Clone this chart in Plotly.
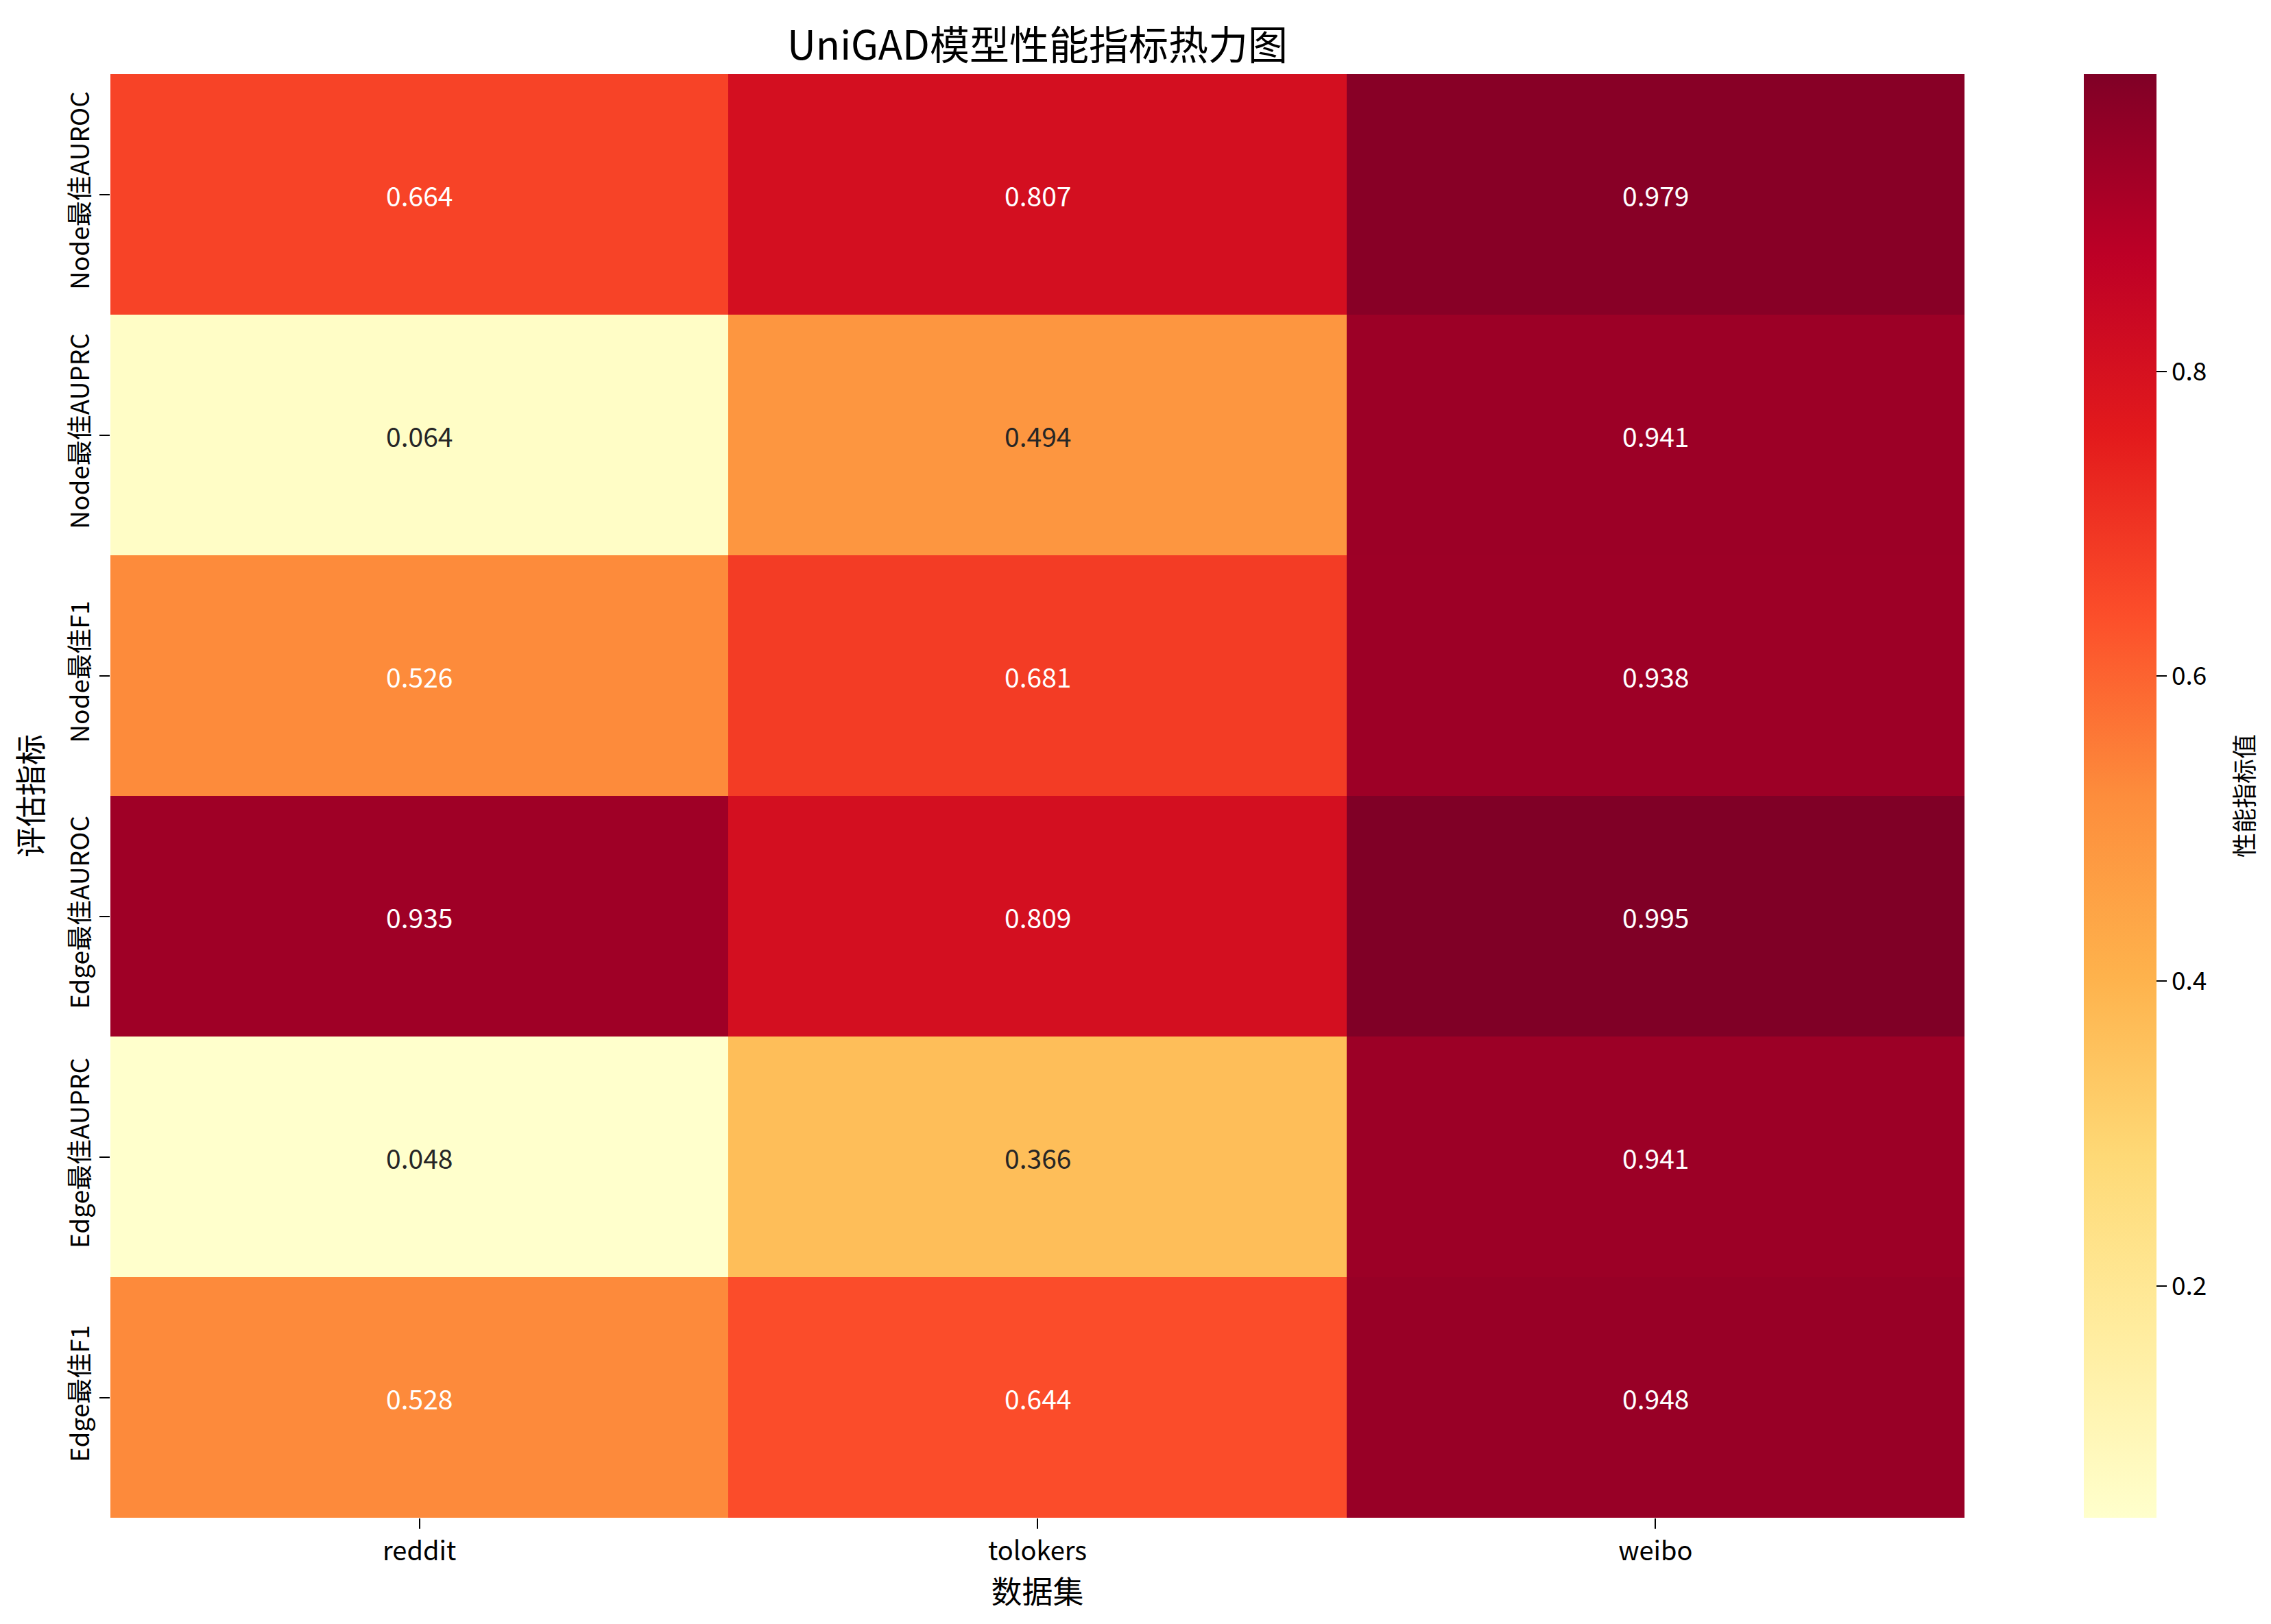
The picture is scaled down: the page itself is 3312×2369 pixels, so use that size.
"""UniGAD heatmap of performance metrics."""

import plotly.graph_objects as go
import plotly.express as px

datasets = ['reddit', 'tolokers', 'weibo']
metrics = ['Node最佳AUROC', 'Node最佳AUPRC', 'Node最佳F1',
           'Edge最佳AUROC', 'Edge最佳AUPRC', 'Edge最佳F1']

node_auroc = [0.664, 0.807, 0.979]
node_auprc = [0.064, 0.494, 0.941]
node_f1 = [0.526, 0.681, 0.938]
edge_auroc = [0.935, 0.809, 0.995]
edge_auprc = [0.048, 0.366, 0.941]
edge_f1 = [0.528, 0.644, 0.948]

z = [node_auroc, node_auprc, node_f1, edge_auroc, edge_auprc, edge_f1]
zmin = min(min(r) for r in z)
zmax = max(max(r) for r in z)

FONT = 'Noto Sans CJK SC'
W, H = 3312, 2369
L, R, T, B = 153, 2857, 100, 2206
pw = R - L

fig = go.Figure()
fig.add_trace(go.Heatmap(
    z=z, x=datasets, y=metrics,
    colorscale=px.colors.sequential.YlOrRd,
    zmin=zmin, zmax=zmax,
    colorbar=dict(
        x=(3031 - L) / pw, xanchor='left', y=0.5, len=1, lenmode='fraction',
        thickness=106, outlinewidth=0, xpad=0, ypad=0,
        tickvals=[0.2, 0.4, 0.6, 0.8], ticktext=['0.2', '0.4', '0.6', '0.8'],
        ticks='outside', ticklen=15, tickwidth=2, tickcolor='black',
        tickfont=dict(family=FONT, size=37, color='black'),
    ),
    hoverinfo='skip',
))

# cell labels, dark text on light cells like seaborn
for i, row in enumerate(z):
    for j, v in enumerate(row):
        fig.add_annotation(
            x=datasets[j], y=metrics[i], text=f'{v:.3f}', showarrow=False,
            font=dict(family=FONT, size=39, color='#262626' if v < 0.5 else 'white'),
        )

fig.add_annotation(
    text='性能指标值', xref='paper', yref='paper', x=(3263 - L) / pw, y=0.5,
    textangle=-90, showarrow=False, xanchor='center', yanchor='middle',
    font=dict(family=FONT, size=36, color='black'),
)

fig.update_layout(
    width=W, height=H,
    margin=dict(l=L, r=W - R, t=T, b=H - B, pad=0),
    paper_bgcolor='white', plot_bgcolor='white',
    title=dict(text='UniGAD模型性能指标热力图', x=0.5, xref='paper',
               y=1 - 59 / H, yref='container', yanchor='middle',
               font=dict(family=FONT, size=58, color='black')),
    xaxis=dict(
        title=dict(text='数据集', font=dict(family=FONT, size=45, color='black'), standoff=16),
        ticks='outside', ticklen=15, tickwidth=2, tickcolor='black',
        tickfont=dict(family=FONT, size=38, color='black'),
        showgrid=False, zeroline=False, showline=False, automargin=False,
    ),
    yaxis=dict(
        title=dict(text='评估指标', font=dict(family=FONT, size=45, color='black'), standoff=10),
        autorange='reversed', tickangle=-90,
        ticks='outside', ticklen=15, tickwidth=2, tickcolor='black',
        tickfont=dict(family=FONT, size=37, color='black'),
        showgrid=False, zeroline=False, showline=False, automargin=False,
    ),
)

fig.write_html('out.html')
